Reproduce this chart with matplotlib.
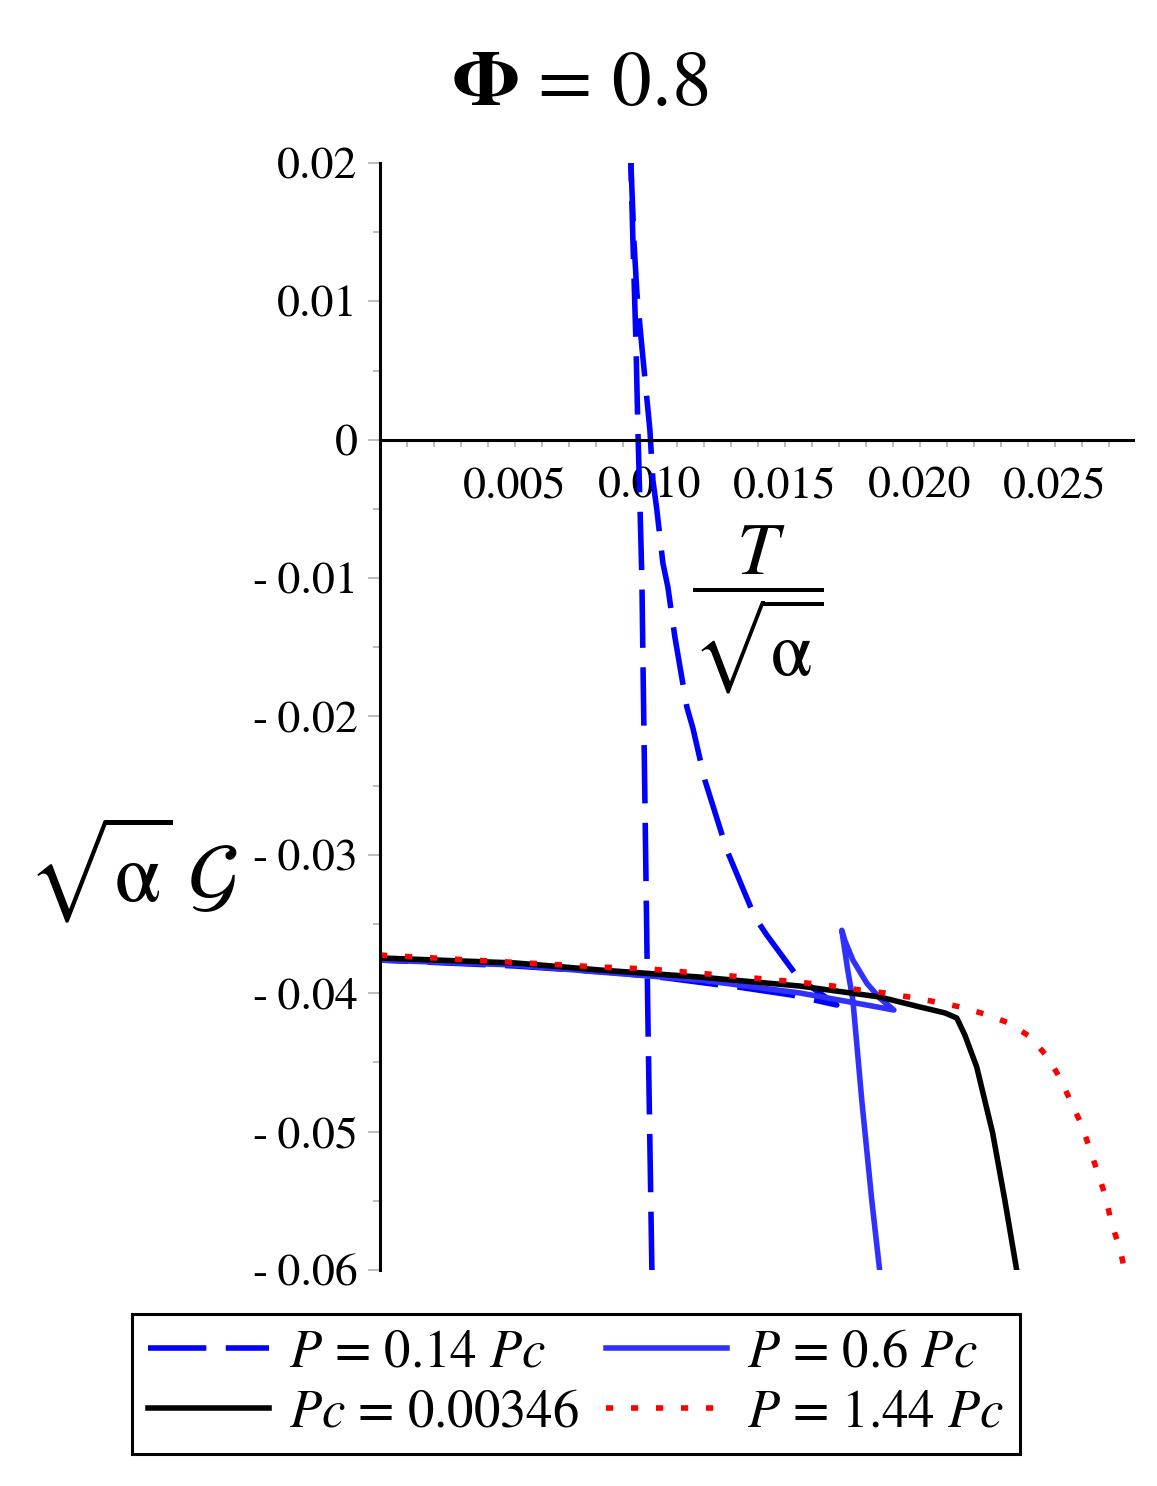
import numpy as np
import matplotlib.pyplot as plt
from matplotlib.ticker import MultipleLocator, FuncFormatter

plt.rcParams['font.family'] = ['STIXGeneral', 'DejaVu Serif']
plt.rcParams['mathtext.fontset'] = 'stix'

# P = 0.14 Pc, two pieces: steep branch and the swallowtail branch
T_a = [0.010074, 0.009926, 0.009815, 0.009741, 0.009704, 0.009630, 0.009556, 0.009481, 0.009370, 0.009296]
G_a = [-0.06000, -0.04179, -0.02603, -0.01570, -0.01014, -0.00457, 0.00070, 0.00720, 0.01443, 0.02000]
T_b = [0.009296, 0.009407, 0.009519, 0.009704, 0.010000, 0.010111, 0.010259, 0.010481, 0.010667,
       0.010926, 0.011370, 0.011593, 0.012037, 0.012852, 0.013889, 0.014333, 0.015481, 0.016037,
       0.016926, 0.015259, 0.013259, 0.012593, 0.010630, 0.008889, 0.005000, 0.0]
G_b = [0.02000, 0.01443, 0.01060, 0.00670, 0.00070, -0.00291, -0.00508, -0.00891, -0.01065,
       -0.01426, -0.01932, -0.02084, -0.02460, -0.02966, -0.03450, -0.03580, -0.03884, -0.03963,
       -0.04085, -0.04013, -0.03955, -0.03940, -0.03890, -0.03854, -0.03803, -0.03760]

# P = 0.6 Pc
T_06 = [0.0, 0.005, 0.00815, 0.01185, 0.01556, 0.01741, 0.01904,
        0.01852, 0.01804, 0.01752, 0.01722, 0.01711,
        0.01733, 0.01752, 0.01785, 0.01822, 0.01852]
G_06 = [-0.03760, -0.03796, -0.03847, -0.03904, -0.03998, -0.04063, -0.04121,
        -0.04036, -0.03928, -0.03760, -0.03617, -0.03545,
        -0.03832, -0.04049, -0.04771, -0.05494, -0.06014]

# Pc = 0.00346
T_c = [0.0, 0.0050, 0.00815, 0.01185, 0.01556, 0.01852, 0.0200, 0.02093, 0.02137,
       0.02167, 0.02211, 0.0227, 0.02315, 0.02359]
G_c = [-0.03745, -0.03781, -0.03832, -0.03883, -0.03948, -0.04027, -0.04099, -0.04142, -0.04179,
       -0.04302, -0.04533, -0.05010, -0.05494, -0.06000]

# P = 1.44 Pc
T_144 = [0.0, 0.0050, 0.0081, 0.0100, 0.0130, 0.0155, 0.0168, 0.0178, 0.0187, 0.0196, 0.0206,
         0.0215, 0.0224, 0.0233, 0.0241, 0.0247, 0.0252, 0.0256, 0.0260, 0.0263, 0.0266,
         0.0269, 0.0271, 0.0274, 0.0276]
G_144 = [-0.03724, -0.03777, -0.03810, -0.03825, -0.03875, -0.03919, -0.03948, -0.03977, -0.03998,
         -0.04027, -0.04063, -0.04099, -0.04150, -0.04215, -0.04316, -0.04454, -0.04613, -0.04786,
         -0.04952, -0.05126, -0.05299, -0.05480, -0.05661, -0.05834, -0.06008]

labels = [r'$P$ = 0.14 $Pc$', r'$Pc$ = 0.00346', r'$P$ = 0.6 $Pc$', r'$P$ = 1.44 $Pc$']

W, H = 1157, 1486
fig = plt.figure(figsize=(W / 100, H / 100), dpi=100)
ax = fig.add_axes([380 / W, 1 - 1270 / H, 753 / W, 1107 / H])

lw = 4
l1, = ax.plot(T_a, G_a, color='#0000ff', lw=lw, dashes=(10.5, 3.5))
ax.plot(T_b, G_b, color='#0000ff', lw=lw, dashes=(10.5, 3.5))
l2, = ax.plot(T_06, G_06, color='#3030ff', lw=lw)
l3, = ax.plot(T_c, G_c, color='black', lw=lw)
l4, = ax.plot(T_144, G_144, color='#ff0000', lw=lw, dashes=(1.3, 3.2))

ax.set_xlim(0, 0.0279)
ax.set_ylim(-0.06, 0.02)
for s in ['top', 'right']:
    ax.spines[s].set_visible(False)
ax.spines['bottom'].set_position(('data', 0))
ax.spines['left'].set_linewidth(2.2)
ax.spines['bottom'].set_linewidth(2.2)

ax.xaxis.set_major_locator(MultipleLocator(0.005))
ax.xaxis.set_minor_locator(MultipleLocator(0.001))
ax.yaxis.set_major_locator(MultipleLocator(0.01))
ax.yaxis.set_minor_locator(MultipleLocator(0.005))
ax.xaxis.set_major_formatter(FuncFormatter(lambda v, p: '' if abs(v) < 1e-9 else '%.3f' % v))


def yfmt(v, p):
    if abs(v) < 1e-9:
        return '0'
    s = '%.2f' % abs(v)
    return ('-\u2009' + s) if v < 0 else s


ax.yaxis.set_major_formatter(FuncFormatter(yfmt))
ax.tick_params(axis='y', which='major', length=9, width=1.2, color='#b0b0b0', pad=7, labelsize=33)
ax.tick_params(axis='y', which='minor', length=5, width=1.2, color='#b0b0b0')
ax.tick_params(axis='x', which='both', length=5, width=1.2, color='#b0b0b0', pad=14, labelsize=33)

fig.text(580 / W, 1 - 87 / H, r'$\mathbf{\Phi}$ = 0.8', fontsize=57, ha='center', va='center')
fig.text(758 / W, 1 - 610 / H, r'$\dfrac{T}{\sqrt{\mathrm{\alpha}}}$', fontsize=54,
         ha='center', va='center')
fig.text(132 / W, 1 - 868 / H, r'$\sqrt{\mathrm{\alpha}}\;\mathcal{G}$', fontsize=60,
         ha='center', va='center')

leg = fig.legend([l1, l3, l2, l4], labels, ncol=2, loc='center',
                 bbox_to_anchor=(576 / W, 1 - 1384 / H), fontsize=38,
                 handlelength=2.3, handletextpad=0.38, columnspacing=0.5,
                 labelspacing=0.2, borderpad=0.3, fancybox=False, framealpha=1)
leg.get_frame().set_edgecolor('black')
leg.get_frame().set_linewidth(2.2)

fig.savefig('out.png', dpi=100)
